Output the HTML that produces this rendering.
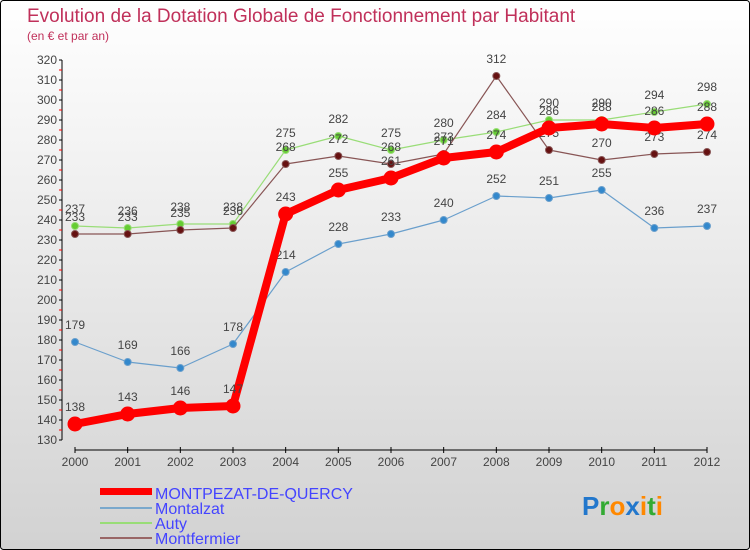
<!DOCTYPE html>
<html><head><meta charset="utf-8"><style>
body{margin:0}
svg{display:block;font-family:"Liberation Sans",sans-serif}
</style></head><body>
<svg width="750" height="550">
<defs><linearGradient id="bg" x1="0" y1="0" x2="0" y2="1"><stop offset="0" stop-color="#ffffff"/><stop offset="1" stop-color="#d2d2d2"/></linearGradient></defs>
<rect x="0.5" y="0.5" width="749" height="549" rx="3" fill="url(#bg)" stroke="#000"/>
<text x="27" y="22" font-size="19" fill="#c0305a">Evolution de la Dotation Globale de Fonctionnement par Habitant</text>
<text x="27" y="40" font-size="12" fill="#c0305a">(en € et par an)</text>
<g id="axes"></g>
<g id="series"></g>
<g>
<rect x="100" y="488" width="52" height="7" fill="#ff0000"/>
<text x="155" y="499" font-size="16" fill="#4444ff">MONTPEZAT-DE-QUERCY</text>
<line x1="100" x2="152" y1="508" y2="508" stroke="#7aa8cc" stroke-width="2"/>
<text x="155" y="514" font-size="16" fill="#4444ff">Montalzat</text>
<line x1="100" x2="152" y1="523" y2="523" stroke="#99dd77" stroke-width="2"/>
<text x="155" y="529" font-size="16" fill="#4444ff">Auty</text>
<line x1="100" x2="152" y1="538" y2="538" stroke="#996666" stroke-width="2"/>
<text x="155" y="544" font-size="16" fill="#4444ff">Montfermier</text>
</g>
<g font-size="26" font-weight="bold">
<text x="582" y="515"><tspan fill="#2277cc">P</tspan><tspan fill="#33aa33">r</tspan><tspan fill="#ff8800">o</tspan><tspan fill="#2277cc">x</tspan><tspan fill="#ff8800">i</tspan><tspan fill="#33aa33">t</tspan><tspan fill="#ff8800">i</tspan></text>
</g>
</svg>
<script>
const years=[2000,2001,2002,2003,2004,2005,2006,2007,2008,2009,2010,2011,2012];
const montpezat=[138,143,146,147,243,255,261,271,274,286,288,286,288];
const montalzat=[179,169,166,178,214,228,233,240,252,251,255,236,237];
const auty=[237,236,238,238,275,282,275,280,284,290,290,294,298];
const montfermier=[233,233,235,236,268,272,268,273,312,275,270,273,274];
const yTicks=[130,140,150,160,170,180,190,200,210,220,230,240,250,260,270,280,290,300,310,320];
const NS="http://www.w3.org/2000/svg";
const xS=i=>75+i*(707-75)/(years.length-1);
const yS=v=>440-(v-130)*2;
function mk(t,a,p){const e=document.createElementNS(NS,t);for(const k in a)e.setAttribute(k,a[k]);p.appendChild(e);return e;}
const ax=document.getElementById('axes');
let yl=mk('line',{x1:62,x2:62,y1:60,y2:440,stroke:'#000'},ax);


yTicks.forEach(v=>{
 mk('line',{x1:59,x2:62,y1:yS(v),y2:yS(v),stroke:'#000'},ax);
 if(v<320)mk('line',{x1:59,x2:62,y1:yS(v+5),y2:yS(v+5),stroke:'#f00'},ax);
 const t=mk('text',{x:57,y:yS(v)+4,'text-anchor':'end','font-size':12,fill:'#444'},ax);
 t.textContent=v;
 
 
});
let xl=mk('line',{x1:75,x2:707,y1:450,y2:450,stroke:'#000'},ax);


years.forEach((y,i)=>{
 mk('line',{x1:xS(i),x2:xS(i),y1:447,y2:453,stroke:'#000'},ax);
 const t=mk('text',{x:xS(i),y:466,'text-anchor':'middle','font-size':12,fill:'#444'},ax);
 t.textContent=y;
 
 
});
const sg=document.getElementById('series');
function draw(vals,color,dot,w,r,name){
 const g=mk('g',{},sg);
 
 
 const pl=mk('polyline',{points:vals.map((v,i)=>xS(i)+','+yS(v)).join(' '),fill:'none',stroke:color,'stroke-width':w,'stroke-linejoin':'round'},g);
 
 
 vals.forEach((v,i)=>{
  const c=mk('circle',{cx:xS(i),cy:yS(v),r:r,fill:dot,stroke:color,'stroke-width':1},g);
  
  
  const t=mk('text',{x:xS(i),y:yS(v)-13,'text-anchor':'middle','font-size':12,fill:'#444'},g);
  t.textContent=v;
  
  
 });
}
draw(montalzat,'#6a9fcc','#3388cc',1.2,3.5,'montalzat');
draw(auty,'#99dd77','#66cc33',1.2,3.5,'auty');
draw(montfermier,'#885555','#661111',1.2,3.5,'montfermier');
draw(montpezat,'#ff0000','#ff0000',8,7,'montpezat');
</script>
</body></html>
